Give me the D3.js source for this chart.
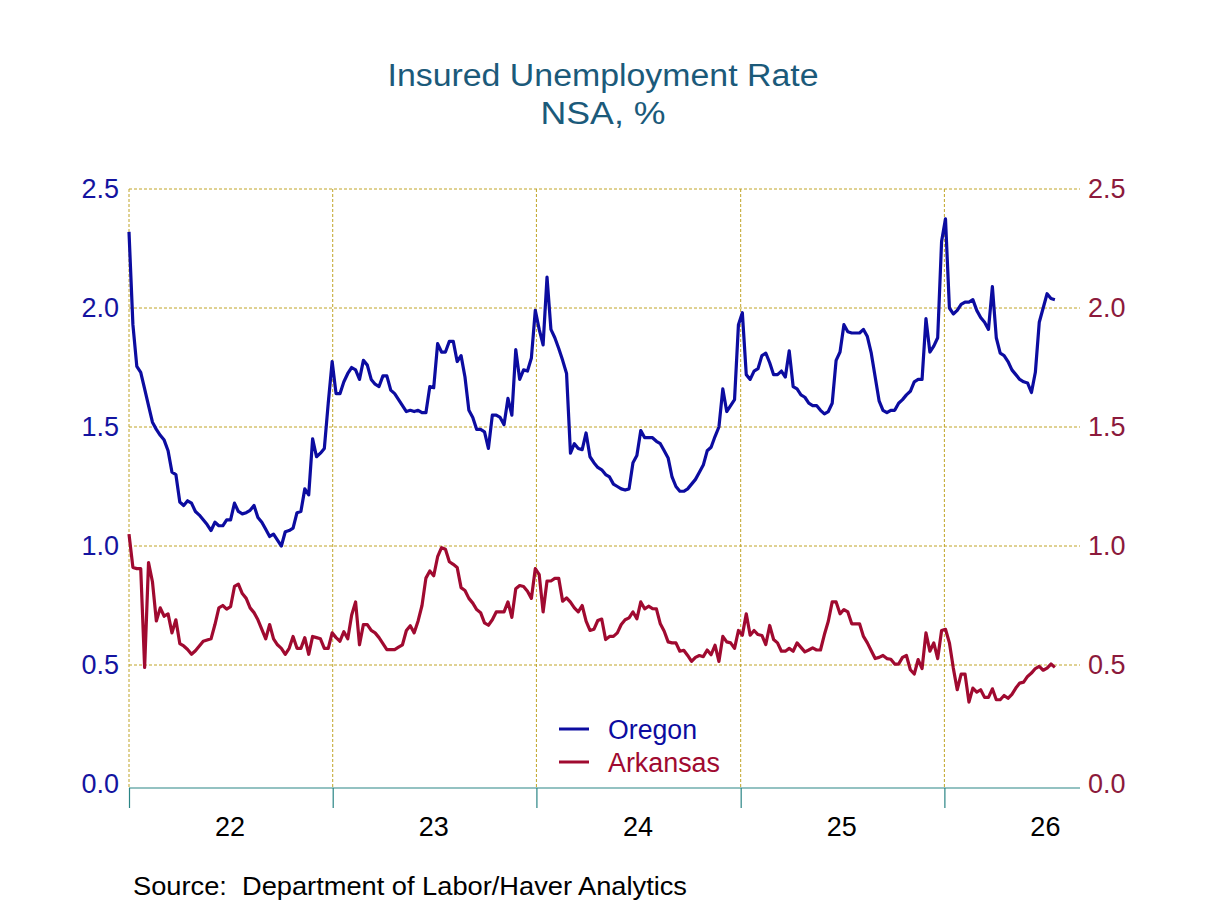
<!DOCTYPE html>
<html>
<head>
<meta charset="utf-8">
<script src="https://cdn.jsdelivr.net/npm/d3@7"></script>
<style>
  html, body { margin: 0; padding: 0; background: #ffffff; }
  svg { display: block; }
  text { font-family: Arial, "Liberation Sans", Helvetica, sans-serif; }
</style>
</head>
<body>
<svg id="chart" width="1208" height="906"></svg>
<script>
// ---- Data (weekly, first week ending 2022-01-01) ----
const startDate = "2022-01-01";

const oregon = [
  2.32, 1.93, 1.755, 1.73, 1.66, 1.59, 1.52, 1.49, 1.465, 1.445,
  1.40, 1.31, 1.30, 1.185, 1.17, 1.19, 1.18, 1.145, 1.13, 1.11,
  1.09, 1.065, 1.10, 1.085, 1.085, 1.11, 1.11, 1.18, 1.145, 1.135,
  1.14, 1.15, 1.17, 1.12, 1.10, 1.07, 1.04, 1.05, 1.025, 1.00,
  1.06, 1.065, 1.075, 1.14, 1.145, 1.24, 1.215, 1.45, 1.375, 1.39,
  1.41, 1.60, 1.775, 1.64, 1.64, 1.69, 1.725, 1.75, 1.74, 1.70,
  1.78, 1.76, 1.70, 1.68, 1.67, 1.715, 1.715, 1.655, 1.64, 1.615,
  1.59, 1.565, 1.57, 1.565, 1.57, 1.56, 1.56, 1.67, 1.665, 1.85,
  1.815, 1.815, 1.86, 1.86, 1.775, 1.80, 1.71, 1.57, 1.54, 1.49,
  1.49, 1.48, 1.41, 1.55, 1.55, 1.54, 1.51, 1.62, 1.55, 1.825,
  1.70, 1.74, 1.735, 1.79, 1.99, 1.91, 1.845, 2.13, 1.91, 1.875,
  1.83, 1.78, 1.725, 1.39, 1.43, 1.41, 1.405, 1.475, 1.375, 1.35,
  1.33, 1.32, 1.30, 1.29, 1.26, 1.25, 1.24, 1.235, 1.24, 1.35,
  1.38, 1.485, 1.455, 1.455, 1.455, 1.44, 1.43, 1.40, 1.37, 1.29,
  1.25, 1.23, 1.23, 1.24, 1.26, 1.28, 1.31, 1.34, 1.40, 1.415,
  1.46, 1.50, 1.66, 1.565, 1.59, 1.615, 1.93, 1.98, 1.72, 1.70,
  1.735, 1.745, 1.80, 1.81, 1.77, 1.72, 1.72, 1.735, 1.71, 1.82,
  1.67, 1.66, 1.635, 1.625, 1.60, 1.59, 1.59, 1.57, 1.555, 1.565,
  1.60, 1.78, 1.815, 1.93, 1.90, 1.895, 1.895, 1.895, 1.91, 1.88,
  1.81, 1.71, 1.61, 1.57, 1.56, 1.57, 1.57, 1.60, 1.615, 1.635,
  1.65, 1.69, 1.70, 1.70, 1.955, 1.815, 1.84, 1.875, 2.28, 2.375,
  2.00, 1.975, 1.99, 2.015, 2.025, 2.025, 2.035, 1.99, 1.96, 1.94,
  1.91, 2.09, 1.875, 1.81, 1.80, 1.775, 1.74, 1.72, 1.70, 1.69,
  1.685, 1.645, 1.73, 1.94, 2.00, 2.06, 2.04, 2.035
];

const arkansas = [
  1.05, 0.91, 0.905, 0.905, 0.49, 0.93, 0.85, 0.685, 0.74, 0.705,
  0.715, 0.635, 0.69, 0.59, 0.58, 0.565, 0.545, 0.56, 0.58, 0.60,
  0.605, 0.61, 0.67, 0.74, 0.75, 0.735, 0.745, 0.83, 0.84, 0.80,
  0.78, 0.74, 0.72, 0.69, 0.65, 0.61, 0.67, 0.61, 0.585, 0.57,
  0.545, 0.57, 0.62, 0.57, 0.57, 0.615, 0.545, 0.62, 0.615, 0.61,
  0.57, 0.57, 0.635, 0.615, 0.60, 0.64, 0.61, 0.71, 0.765, 0.585,
  0.67, 0.67, 0.645, 0.635, 0.615, 0.59, 0.565, 0.565, 0.565, 0.575,
  0.585, 0.645, 0.665, 0.635, 0.685, 0.75, 0.865, 0.895, 0.875, 0.955,
  0.993, 0.986, 0.934, 0.923, 0.91, 0.825, 0.813, 0.78, 0.76, 0.733,
  0.72, 0.677, 0.667, 0.69, 0.723, 0.723, 0.723, 0.765, 0.70, 0.82,
  0.834, 0.83, 0.81, 0.78, 0.905, 0.88, 0.723, 0.853, 0.853, 0.864,
  0.864, 0.768, 0.782, 0.764, 0.74, 0.723, 0.75, 0.684, 0.645, 0.65,
  0.687, 0.693, 0.607, 0.62, 0.62, 0.635, 0.67, 0.69, 0.698, 0.723,
  0.694, 0.765, 0.736, 0.747, 0.737, 0.736, 0.673, 0.642, 0.597, 0.593,
  0.593, 0.558, 0.562, 0.54, 0.515, 0.532, 0.54, 0.535, 0.563, 0.543,
  0.583, 0.515, 0.62, 0.597, 0.593, 0.57, 0.645, 0.625, 0.715, 0.625,
  0.645, 0.628, 0.624, 0.586, 0.666, 0.607, 0.593, 0.558, 0.558, 0.57,
  0.558, 0.593, 0.574, 0.555, 0.563, 0.572, 0.563, 0.563, 0.628, 0.684,
  0.765, 0.765, 0.715, 0.733, 0.723, 0.673, 0.673, 0.673, 0.62, 0.593,
  0.56, 0.527, 0.532, 0.54, 0.527, 0.524, 0.504, 0.504, 0.532, 0.54,
  0.48, 0.462, 0.523, 0.485, 0.635, 0.558, 0.593, 0.527, 0.645, 0.65,
  0.593, 0.487, 0.396, 0.462, 0.462, 0.344, 0.403, 0.386, 0.396, 0.364,
  0.364, 0.40, 0.354, 0.354, 0.372, 0.36, 0.377, 0.403, 0.424, 0.428,
  0.452, 0.466, 0.485, 0.494, 0.478, 0.487, 0.504, 0.49
];

const yTicks = [0.0, 0.5, 1.0, 1.5, 2.0, 2.5];
const yearTicks = ["2022-01-01", "2023-01-01", "2024-01-01", "2025-01-01", "2026-01-01"];
const yearLabels = ["22", "23", "24", "25", "26"];
const xDomain = ["2022-01-01", "2026-09-01"];
const seriesNames = ["Oregon", "Arkansas"];
const titleLines = ["Insured Unemployment Rate", "NSA, %"];
const sourceText = "Source:  Department of Labor/Haver Analytics";

// ---- Styling ----
const colOregon = "#0c0ca0";
const colArkansas = "#a00a30";
const colLeftLbl = "#1414a0";
const colRightLbl = "#8c1a3c";
const colTitle = "#1b5a7a";
const colAxis = "#2a8585";
const colGrid = "#c0a426";
const titleWidths = [431, 125];
const legendWidths = [89, 112];

const parse = d3.utcParse("%Y-%m-%d");
const t0 = parse(startDate);
const dates = oregon.map((_, i) => d3.utcDay.offset(t0, 7 * i));

const L = 129, R = 1080, T = 189, B = 784;
const x = d3.scaleUtc().domain(xDomain.map(parse)).range([L, R]);
const y = d3.scaleLinear().domain([0, 2.5]).range([B, T]);

const svg = d3.select("#chart");

// Title
svg.append("g").selectAll("text").data(titleLines).join("text")
  .attr("x", 603).attr("y", (d, i) => 86 + i * 38)
  .attr("text-anchor", "middle")
  .attr("font-size", 31).attr("fill", colTitle)
  .attr("textLength", (d, i) => titleWidths[i]).attr("lengthAdjust", "spacingAndGlyphs")
  .text(d => d);

// Horizontal gridlines
svg.append("g").selectAll("line").data(yTicks.filter(v => v > 0)).join("line")
  .attr("x1", L).attr("x2", R)
  .attr("y1", d => y(d)).attr("y2", d => y(d))
  .attr("stroke", colGrid).attr("stroke-width", 1)
  .attr("stroke-dasharray", "3,2");

// Vertical gridlines at year boundaries
svg.append("g").selectAll("line").data(yearTicks).join("line")
  .attr("x1", d => x(parse(d))).attr("x2", d => x(parse(d)))
  .attr("y1", T).attr("y2", B + 3)
  .attr("stroke", colGrid).attr("stroke-width", 1)
  .attr("stroke-dasharray", "3,2");

// X axis
const axisY = B + 4;
const xAxis = d3.axisBottom(x)
  .tickValues(yearTicks.map(parse))
  .tickSize(20)
  .tickFormat("");
const gx = svg.append("g").attr("transform", `translate(0,${axisY})`).call(xAxis);
gx.select(".domain").attr("stroke", colAxis).attr("stroke-width", 1.2).attr("d", `M${L},0H${R}`);
gx.selectAll(".tick line").attr("stroke", colAxis).attr("stroke-width", 1.2);

// Year labels centered mid-year
svg.append("g").selectAll("text").data(yearLabels).join("text")
  .attr("x", (d, i) => x(parse(yearTicks[i].replace("-01-01", "-07-01"))))
  .attr("y", 836)
  .attr("text-anchor", "middle")
  .attr("font-size", 27).attr("fill", "#000000")
  .text(d => d);

// Left y axis labels
const yAxisL = d3.axisLeft(y).tickValues(yTicks).tickSize(0).tickPadding(10).tickFormat(d3.format(".1f"));
const gyl = svg.append("g").attr("transform", `translate(${L},0)`).call(yAxisL);
gyl.select(".domain").remove();
gyl.selectAll("text").attr("font-size", 27).attr("fill", colLeftLbl)
  .attr("font-family", "Arial, 'Liberation Sans', sans-serif").attr("dy", "0.3em");

// Right y axis labels
const yAxisR = d3.axisRight(y).tickValues(yTicks).tickSize(0).tickPadding(8).tickFormat(d3.format(".1f"));
const gyr = svg.append("g").attr("transform", `translate(${R},0)`).call(yAxisR);
gyr.select(".domain").remove();
gyr.selectAll("text").attr("font-size", 27).attr("fill", colRightLbl)
  .attr("font-family", "Arial, 'Liberation Sans', sans-serif").attr("dy", "0.3em");

// Lines
const line = d3.line().x((d, i) => x(dates[i])).y(d => y(d)).curve(d3.curveLinear);
svg.append("path").datum(arkansas)
  .attr("fill", "none").attr("stroke", colArkansas).attr("stroke-width", 3.2)
  .attr("stroke-linejoin", "round").attr("d", line);
svg.append("path").datum(oregon)
  .attr("fill", "none").attr("stroke", colOregon).attr("stroke-width", 3.2)
  .attr("stroke-linejoin", "round").attr("d", line);

// Legend
const legCols = [colOregon, colArkansas];
const leg = svg.append("g").selectAll("g").data(seriesNames).join("g")
  .attr("transform", (d, i) => `translate(559,${729 + i * 33})`);
leg.append("line").attr("x1", 0).attr("x2", 30).attr("y1", 0).attr("y2", 0)
  .attr("stroke", (d, i) => legCols[i]).attr("stroke-width", 3);
leg.append("text").attr("x", 49).attr("y", 0).attr("dy", "0.36em")
  .attr("font-size", 27).attr("fill", (d, i) => legCols[i])
  .attr("textLength", (d, i) => legendWidths[i]).attr("lengthAdjust", "spacingAndGlyphs")
  .text(d => d);

// Source
svg.append("text").attr("x", 133).attr("y", 895)
  .attr("font-size", 26).attr("fill", "#000000")
  .attr("textLength", 554).attr("lengthAdjust", "spacingAndGlyphs")
  .attr("xml:space", "preserve").style("white-space", "pre")
  .text(sourceText);
</script>
</body>
</html>
